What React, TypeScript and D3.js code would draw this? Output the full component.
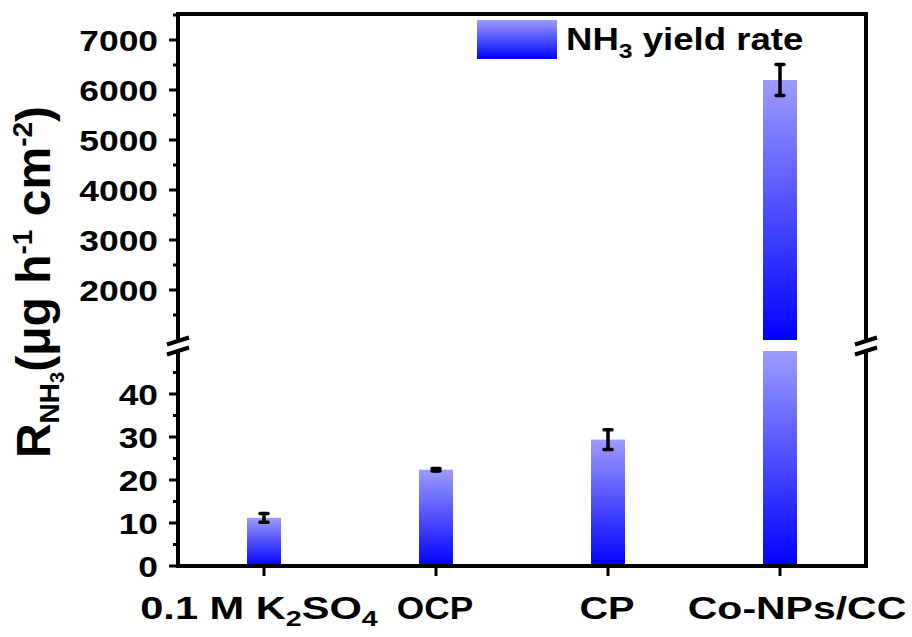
import React from "react";
import * as d3 from "d3";

// Samples and NH3 yield rates (μg h⁻¹ cm⁻²) with their error half-widths
const categories = ["0.1 M K2SO4", "OCP", "CP", "Co-NPs/CC"];
const yieldRates = [11.2, 22.4, 29.4, 6200];
const yieldErrors = [1.0, 0.3, 2.3, 310];

// Broken y axis: a low segment and a high segment
const lowerDomain = [0, 50];
const upperDomain = [1000, 7500];
const lowerTicks = [0, 10, 20, 30, 40];
const upperTicks = [2000, 3000, 4000, 5000, 6000, 7000];
const lowerMinor = [5, 15, 25, 35, 45];
const upperMinor = [1500, 2500, 3500, 4500, 5500, 6500, 7500];

const W = 912;
const H = 637;
const left = 178;
const right = 866;
const top = 15;
const bottom = 566;
const breakLow = 351;
const breakHigh = 340;
const FONT = "'Liberation Sans', Arial, Helvetica, sans-serif";

// per-label horizontal offset and stretch for the category names
const labelLayout: Record<string, { dx: number; sx: number }> = {
  "0.1 M K2SO4": { dx: -5, sx: 1.3 },
  OCP: { dx: -1, sx: 1.1 },
  CP: { dx: -1, sx: 1.24 },
  "Co-NPs/CC": { dx: 17, sx: 1.28 },
};

export default function App() {
  const x = d3.scalePoint<string>().domain(categories).range([left, right]).padding(0.5);
  const yLow = d3.scaleLinear().domain(lowerDomain).range([bottom, breakLow]);
  const yHigh = d3.scaleLinear().domain(upperDomain).range([breakHigh, top]);
  const barW = 34;
  const lw = 4;

  function errBar(key: string, cx: number, y1: number, y2: number) {
    return (
      <g key={key} stroke="#000" strokeWidth={3.5} strokeLinecap="round">
        <line x1={cx} x2={cx} y1={y1} y2={y2} />
        <line x1={cx - 4} x2={cx + 4} y1={y1} y2={y1} />
        <line x1={cx - 4} x2={cx + 4} y1={y2} y2={y2} />
      </g>
    );
  }

  const bars: JSX.Element[] = [];
  const errs: JSX.Element[] = [];
  categories.forEach((c, i) => {
    const v = yieldRates[i];
    const e = yieldErrors[i];
    const cx = x(c)!;
    if (v <= lowerDomain[1]) {
      bars.push(
        <rect key={`b${i}`} x={cx - barW / 2} y={yLow(v)} width={barW} height={yLow(0) - yLow(v)} fill="url(#barGrad)" />
      );
      errs.push(errBar(`e${i}`, cx, yLow(v + e), yLow(v - e)));
    } else {
      bars.push(
        <rect key={`b${i}l`} x={cx - barW / 2} y={yLow(lowerDomain[1])} width={barW} height={yLow(0) - yLow(lowerDomain[1])} fill="url(#barGrad)" />
      );
      bars.push(
        <rect key={`b${i}u`} x={cx - barW / 2} y={yHigh(v)} width={barW} height={yHigh(upperDomain[0]) - yHigh(v)} fill="url(#barGrad)" />
      );
      errs.push(errBar(`e${i}`, cx, yHigh(v + e), yHigh(v - e)));
    }
  });

  // slanted break marks drawn over an axis line
  const breakMarks = (ax: number, key: string) => {
    const yc = (breakLow + breakHigh) / 2;
    return (
      <g key={key}>
        <rect x={ax - 12} y={yc - 6} width={24} height={12} fill="#fff" />
        <line x1={ax - 11} x2={ax + 11} y1={yc - 1} y2={yc - 8} stroke="#000" strokeWidth={4} />
        <line x1={ax - 11} x2={ax + 11} y1={yc + 9} y2={yc + 2} stroke="#000" strokeWidth={4} />
      </g>
    );
  };

  return (
    <div style={{ position: "absolute", left: 0, top: 0 }}>
      <svg width={W} height={H} style={{ display: "block", fontFamily: FONT }}>
        <defs>
          <linearGradient id="barGrad" x1="0" y1="0" x2="0" y2="1">
            <stop offset="0" stopColor="#9c9cff" />
            <stop offset="1" stopColor="#0000ff" />
          </linearGradient>
        </defs>
        <rect width={W} height={H} fill="#fff" />

        {bars}
        {errs}

        {/* frame */}
        <g stroke="#000" strokeWidth={lw} fill="none">
          <line x1={left} x2={right + lw / 2} y1={top - 1} y2={top - 1} />
          <line x1={left - lw / 2} x2={right + lw / 2} y1={bottom} y2={bottom} />
          <line x1={left} x2={left} y1={top - 3} y2={bottom} />
          <line x1={right} x2={right} y1={top - 3} y2={bottom} />
        </g>
        {breakMarks(left, "bl")}
        {breakMarks(right, "br")}

        {/* ticks */}
        <g stroke="#000" strokeWidth={3}>
          {lowerTicks.map((t) => (
            <line key={`lt${t}`} x1={left - 9} x2={left} y1={yLow(t)} y2={yLow(t)} />
          ))}
          {upperTicks.map((t) => (
            <line key={`ut${t}`} x1={left - 9} x2={left} y1={yHigh(t)} y2={yHigh(t)} />
          ))}
          {lowerMinor.map((t) => (
            <line key={`lm${t}`} x1={left - 5} x2={left} y1={yLow(t)} y2={yLow(t)} />
          ))}
          {upperMinor.map((t) => (
            <line key={`um${t}`} x1={left - 5} x2={left} y1={yHigh(t)} y2={yHigh(t)} />
          ))}
          {categories.map((c) => (
            <line key={`xt${c}`} x1={x(c)} x2={x(c)} y1={bottom} y2={bottom + 10} />
          ))}
        </g>

        {/* y tick labels */}
        <g fontSize={30} fontWeight="bold" textAnchor="end" fill="#000">
          {lowerTicks.map((t) => (
            <text key={`ll${t}`} transform={`translate(158,${yLow(t)}) scale(1.18,1)`} dy="0.36em">{t}</text>
          ))}
          {upperTicks.map((t) => (
            <text key={`ul${t}`} transform={`translate(158,${yHigh(t)}) scale(1.18,1)`} dy="0.36em">{t}</text>
          ))}
        </g>

        {/* x tick labels */}
        <g fontSize={32} fontWeight="bold" textAnchor="middle" fill="#000">
          {categories.map((c) => {
            const cx = x(c)!;
            const { dx, sx } = labelLayout[c];
            const tr = `translate(${cx + dx},619) scale(${sx},1)`;
            if (c === "0.1 M K2SO4") {
              return (
                <text key={c} transform={tr}>
                  0.1 M K<tspan fontSize={22} dy={7}>2</tspan>
                  <tspan dy={-7}>SO</tspan>
                  <tspan fontSize={22} dy={7}>4</tspan>
                </text>
              );
            }
            return (
              <text key={c} transform={tr}>{c}</text>
            );
          })}
        </g>

        {/* y axis title */}
        <text
          transform="translate(50,282) rotate(-90)"
          textAnchor="middle"
          fontSize={48}
          fontWeight="bold"
          fill="#000"
        >
          R<tspan fontSize={28} dy={9}>NH</tspan>
          <tspan fontSize={20} dy={5}>3</tspan>
          <tspan dy={-14}>(μg h</tspan>
          <tspan fontSize={28} dy={-18}>-1</tspan>
          <tspan dy={18}> cm</tspan>
          <tspan fontSize={28} dy={-18}>-2</tspan>
          <tspan dy={18}>)</tspan>
        </text>

        {/* legend */}
        <rect x={477} y={20} width={80} height={39} fill="url(#barGrad)" />
        <text transform="translate(566,50) scale(1.18,1)" fontSize={31} fontWeight="bold" fill="#000">
          NH<tspan fontSize={21} dy={8}>3</tspan>
          <tspan dy={-8}> yield rate</tspan>
        </text>
      </svg>
    </div>
  );
}
